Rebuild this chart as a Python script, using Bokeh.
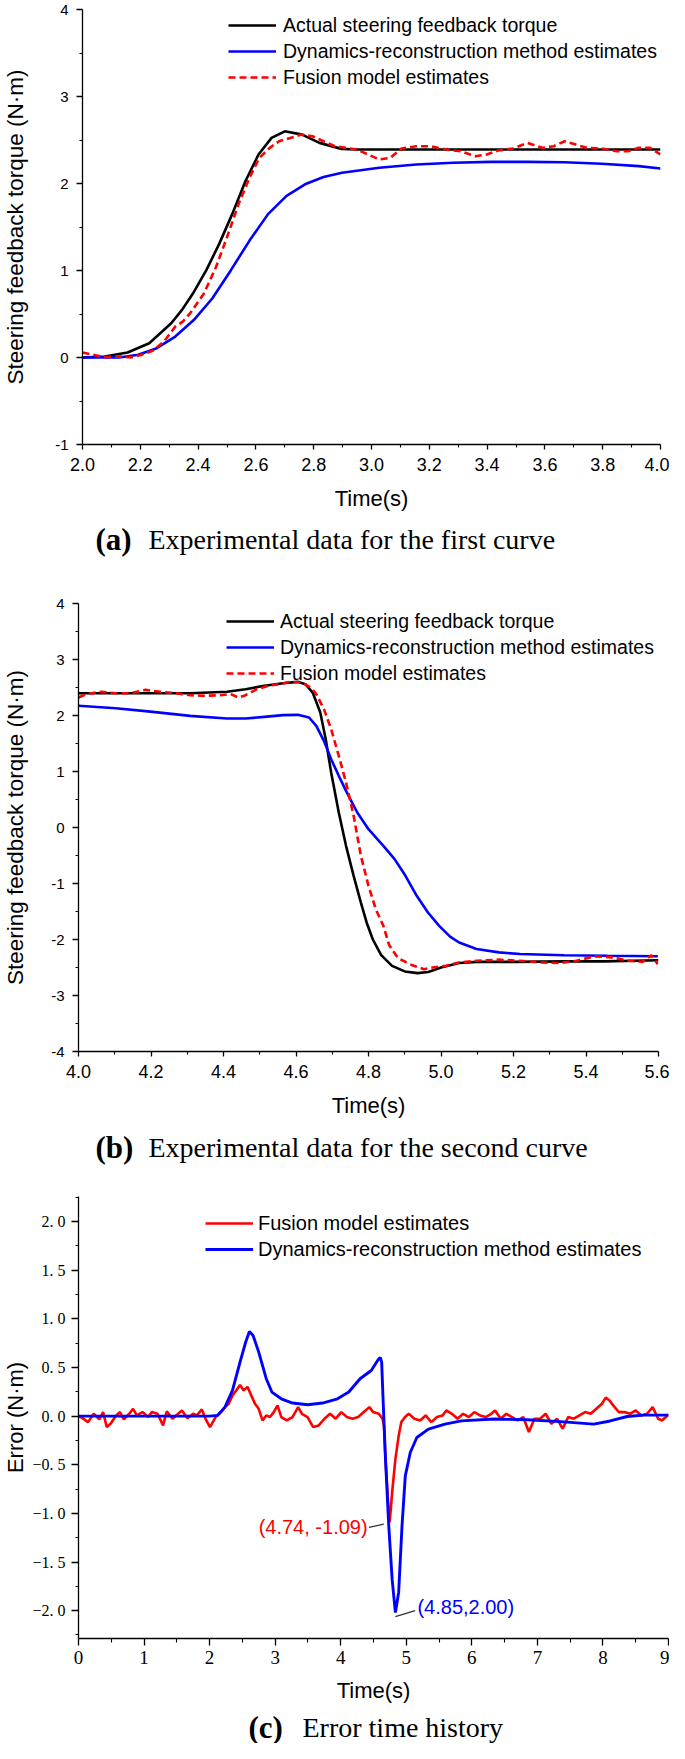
from bokeh.plotting import figure
from bokeh.layouts import column
from bokeh.models import FixedTicker, CustomJSTickFormatter, Legend, LegendItem, Label
from bokeh.embed import file_html
from bokeh.resources import INLINE

# ---------------- data: panel (a) ----------------
a_actual_t = [2.0, 2.077, 2.156, 2.231, 2.307, 2.345, 2.382, 2.428, 2.473, 2.518, 2.564, 2.609,
              2.654, 2.70, 2.76, 2.82, 2.896, 2.95, 3.1, 3.3, 3.5, 3.7, 3.9, 4.0]
a_actual_y = [0.0, 0.012, 0.058, 0.164, 0.393, 0.55, 0.735, 1.001, 1.306, 1.648, 2.029, 2.333,
              2.524, 2.60, 2.562, 2.467, 2.398, 2.39, 2.39, 2.39, 2.39, 2.39, 2.39, 2.39]

a_dyn_t = [2.0, 2.128, 2.193, 2.257, 2.321, 2.385, 2.449, 2.513, 2.578, 2.642, 2.706, 2.77,
           2.834, 2.898, 3.027, 3.155, 3.283, 3.412, 3.54, 3.668, 3.797, 3.925, 4.0]
a_dyn_y = [0.0, 0.001, 0.031, 0.107, 0.241, 0.43, 0.678, 1.001, 1.344, 1.648, 1.857, 1.991,
           2.074, 2.124, 2.181, 2.219, 2.238, 2.249, 2.249, 2.245, 2.227, 2.20, 2.173]

a_fus_t = [2.0, 2.038, 2.077, 2.128, 2.167, 2.205, 2.244, 2.282, 2.321, 2.347, 2.372, 2.42,
           2.462, 2.50, 2.54, 2.578, 2.612, 2.648, 2.68, 2.719, 2.757, 2.796, 2.834, 2.873,
           2.911, 2.95, 2.988, 3.027, 3.065, 3.104, 3.155, 3.206, 3.258, 3.309, 3.36, 3.399,
           3.437, 3.489, 3.54, 3.591, 3.63, 3.668, 3.707, 3.745, 3.797, 3.848, 3.887, 3.925,
           3.964, 4.0]
a_fus_y = [0.058, 0.031, 0.004, 0.012, 0.001, 0.031, 0.081, 0.184, 0.355, 0.412, 0.507, 0.735,
           1.04, 1.382, 1.763, 2.067, 2.295, 2.41, 2.485, 2.524, 2.562, 2.543, 2.485, 2.428,
           2.41, 2.39, 2.333, 2.276, 2.295, 2.402, 2.428, 2.428, 2.39, 2.371, 2.314, 2.333,
           2.379, 2.402, 2.466, 2.41, 2.428, 2.485, 2.447, 2.41, 2.402, 2.371, 2.371, 2.41,
           2.41, 2.333]

# ---------------- data: panel (b) ----------------
b_actual_t = [4.0, 4.103, 4.205, 4.308, 4.41, 4.461, 4.513, 4.564, 4.605, 4.626, 4.646, 4.667,
              4.682, 4.697, 4.718, 4.738, 4.759, 4.779, 4.795, 4.812, 4.835, 4.865, 4.90, 4.935,
              4.965, 5.0, 5.05, 5.1, 5.2, 5.35, 5.45, 5.6]
b_actual_y = [2.398, 2.398, 2.398, 2.398, 2.423, 2.47, 2.53, 2.577, 2.601, 2.56, 2.41, 2.054,
              1.577, 0.982, 0.268, -0.327, -0.863, -1.34, -1.70, -2.0, -2.28, -2.47, -2.57, -2.60,
              -2.58, -2.50, -2.42, -2.40, -2.40, -2.39, -2.39, -2.37]

b_dyn_t = [4.0, 4.103, 4.205, 4.308, 4.41, 4.461, 4.513, 4.564, 4.605, 4.636, 4.656, 4.677,
           4.697, 4.718, 4.738, 4.769, 4.80, 4.841, 4.872, 4.902, 4.933, 4.964, 4.995, 5.025,
           5.05, 5.098, 5.16, 5.218, 5.339, 5.459, 5.598]
b_dyn_y = [2.173, 2.13, 2.065, 1.994, 1.946, 1.946, 1.976, 2.006, 2.012, 1.964, 1.815, 1.548,
           1.22, 0.923, 0.655, 0.268, -0.03, -0.327, -0.565, -0.863, -1.22, -1.518, -1.756, -1.95,
           -2.054, -2.17, -2.23, -2.26, -2.28, -2.29, -2.30]

b_fus_t = [4.0, 4.021, 4.062, 4.103, 4.144, 4.185, 4.226, 4.267, 4.308, 4.349, 4.39, 4.42,
           4.441, 4.461, 4.492, 4.523, 4.554, 4.585, 4.615, 4.641, 4.656, 4.677, 4.697, 4.718,
           4.738, 4.759, 4.779, 4.80, 4.82, 4.841, 4.857, 4.881, 4.917, 4.953, 4.977, 5.014,
           5.05, 5.098, 5.158, 5.218, 5.278, 5.326, 5.374, 5.423, 5.471, 5.52, 5.556, 5.58, 5.598]
b_fus_y = [2.321, 2.381, 2.423, 2.398, 2.398, 2.458, 2.423, 2.398, 2.363, 2.351, 2.363, 2.381,
           2.321, 2.363, 2.47, 2.53, 2.56, 2.601, 2.589, 2.50, 2.381, 2.113, 1.756, 1.28,
           0.804, 0.209, -0.506, -1.042, -1.458, -1.756, -2.1, -2.33, -2.45, -2.53, -2.50, -2.47,
           -2.41, -2.38, -2.36, -2.38, -2.41, -2.42, -2.38, -2.30, -2.32, -2.38, -2.40, -2.28, -2.44]

# ---------------- data: panel (c) ----------------
c_dyn_t = [0.0, 0.5, 1.0, 1.5, 2.006, 2.12, 2.234, 2.349, 2.464, 2.55, 2.607, 2.663, 2.749,
           2.864, 2.95, 3.093, 3.265, 3.494, 3.722, 3.951, 4.123, 4.295, 4.466, 4.58, 4.605,
           4.625, 4.642, 4.683, 4.733, 4.784, 4.834, 4.884, 4.935, 4.985, 5.061, 5.161, 5.338,
           5.59, 5.84, 6.34, 6.85, 7.35, 7.86, 8.11, 8.37, 8.62, 9.0]
c_dyn_y = [0.0, 0.0, 0.0, 0.0, 0.0, 0.007, 0.092, 0.264, 0.555, 0.76, 0.87, 0.829, 0.658,
           0.384, 0.247, 0.178, 0.134, 0.116, 0.134, 0.178, 0.247, 0.384, 0.469, 0.59, 0.60,
           0.55, 0.242, -0.443, -1.128, -1.676, -2.02, -1.81, -1.128, -0.614, -0.374, -0.22, -0.134,
           -0.083, -0.049, -0.03, -0.038, -0.057, -0.083, -0.05, -0.004, 0.01, 0.01]

c_fus_t = [0.0, 0.06, 0.146, 0.232, 0.318, 0.375, 0.432, 0.489, 0.575, 0.633, 0.69, 0.775,
           0.832, 0.89, 0.976, 1.062, 1.119, 1.205, 1.29, 1.347, 1.434, 1.52, 1.577, 1.663,
           1.748, 1.805, 1.881, 1.949, 2.006, 2.092, 2.178, 2.234, 2.292, 2.349, 2.406, 2.464,
           2.521, 2.578, 2.636, 2.692, 2.749, 2.807, 2.864, 2.921, 2.979, 3.036, 3.094, 3.178,
           3.264, 3.35, 3.408, 3.494, 3.58, 3.665, 3.751, 3.837, 3.923, 4.009, 4.094, 4.18,
           4.266, 4.352, 4.438, 4.495, 4.58, 4.638, 4.66, 4.683, 4.723, 4.745, 4.765, 4.784,
           4.834, 4.884, 4.924, 4.982, 5.038, 5.124, 5.21, 5.296, 5.382, 5.468, 5.553, 5.61,
           5.696, 5.782, 5.868, 5.955, 6.039, 6.125, 6.211, 6.297, 6.355, 6.44, 6.526, 6.612,
           6.698, 6.784, 6.87, 6.955, 7.041, 7.127, 7.213, 7.299, 7.384, 7.47, 7.556, 7.642,
           7.728, 7.814, 7.899, 7.985, 8.042, 8.1, 8.157, 8.243, 8.328, 8.414, 8.5, 8.586,
           8.672, 8.758, 8.843, 8.9, 8.987, 9.0]
c_fus_y = [0.0, -0.021, -0.062, 0.024, -0.034, 0.041, -0.113, -0.079, 0.007, 0.041, -0.034, 0.024,
           0.075, 0.007, 0.041, -0.01, 0.041, 0.024, -0.096, 0.048, -0.027, 0.024, 0.058, -0.021,
           0.024, 0.007, 0.069, -0.045, -0.113, -0.01, 0.041, 0.092, 0.127, 0.212, 0.264, 0.32,
           0.264, 0.30, 0.212, 0.127, 0.075, -0.045, 0.007, -0.01, 0.041, 0.11, -0.01, -0.045,
           -0.01, 0.092, 0.024, -0.01, -0.113, -0.096, -0.027, 0.024, -0.027, 0.041, -0.01, -0.027,
           -0.01, 0.041, 0.092, 0.041, 0.024, -0.027, -0.1, -0.443, -0.888, -1.09, -0.95, -0.785,
           -0.443, -0.203, -0.062, -0.01, 0.024, -0.027, -0.045, 0.007, -0.062, -0.01, 0.007, 0.058,
           0.024, -0.027, 0.024, -0.01, 0.041, 0.007, -0.01, 0.024, 0.058, -0.027, 0.024, -0.01,
           -0.045, -0.01, -0.164, -0.027, -0.027, 0.024, -0.079, -0.027, -0.13, -0.01, -0.027, 0.007,
           0.041, 0.024, 0.075, 0.127, 0.19, 0.161, 0.11, 0.041, 0.041, 0.024, 0.058, 0.007,
           0.024, 0.092, -0.027, -0.045, 0.007, 0.02]

# annotation leader lines (panel c)
c_red_lead_x = [4.431, 4.657]
c_red_lead_y = [-1.145, -1.111]
c_blue_lead_x = [4.834, 5.136]
c_blue_lead_y = [-2.06, -2.0]

# ---------------- ticks ----------------
a_xticks = [2.0, 2.2, 2.4, 2.6, 2.8, 3.0, 3.2, 3.4, 3.6, 3.8, 4.0]
a_xminor = [2.1, 2.3, 2.5, 2.7, 2.9, 3.1, 3.3, 3.5, 3.7, 3.9]
a_yticks = [-1, 0, 1, 2, 3, 4]
a_yminor = [-0.5, 0.5, 1.5, 2.5, 3.5]
b_xticks = [4.0, 4.2, 4.4, 4.6, 4.8, 5.0, 5.2, 5.4, 5.6]
b_xminor = [4.1, 4.3, 4.5, 4.7, 4.9, 5.1, 5.3, 5.5]
b_yticks = [-4, -3, -2, -1, 0, 1, 2, 3, 4]
b_yminor = [-3.5, -2.5, -1.5, -0.5, 0.5, 1.5, 2.5, 3.5]
c_xticks = [0, 1, 2, 3, 4, 5, 6, 7, 8, 9]
c_xminor = [0.5, 1.5, 2.5, 3.5, 4.5, 5.5, 6.5, 7.5, 8.5]
c_yticks = [-2.0, -1.5, -1.0, -0.5, 0.0, 0.5, 1.0, 1.5, 2.0]
c_yminor = [-2.25, -1.75, -1.25, -0.75, -0.25, 0.25, 0.75, 1.25, 1.75, 2.25]

SANS = "Liberation Sans"
SERIF = "Liberation Serif"
BLACK = "#000000"
BLUE = "#0000FF"
RED = "#FF0000"
LW = 2.6
W = 669


def make_fig(height, xr, yr, bl, bt, bb, br):
    p = figure(width=W, height=height, x_range=xr, y_range=yr, output_backend="svg",
               toolbar_location=None, title=None, frame_align=False,
               min_border_left=bl, min_border_top=bt, min_border_bottom=bb, min_border_right=br)
    p.grid.visible = False
    p.outline_line_color = None
    p.background_fill_color = "white"
    p.border_fill_color = "white"
    return p


def style_axis(ax, ticks, minor, fmt, font, size, standoff, tick_out, minor_out,
               title, title_size, title_standoff):
    ax.ticker = FixedTicker(ticks=ticks, minor_ticks=minor)
    ax.formatter = CustomJSTickFormatter(code=fmt)
    ax.axis_line_color = "black"
    ax.axis_line_width = 1.3
    ax.major_tick_line_color = "black"
    ax.major_tick_line_width = 1.3
    ax.minor_tick_line_color = "black"
    ax.minor_tick_line_width = 1.1
    ax.major_tick_in = 0
    ax.major_tick_out = tick_out
    ax.minor_tick_in = 0
    ax.minor_tick_out = minor_out
    ax.major_label_text_font = font
    ax.major_label_text_font_size = size
    ax.major_label_text_color = "black"
    ax.major_label_standoff = standoff
    ax.axis_label = title
    ax.axis_label_text_font = SANS
    ax.axis_label_text_font_size = title_size
    ax.axis_label_text_font_style = "normal"
    ax.axis_label_text_color = "black"
    ax.axis_label_standoff = title_standoff


def add_legend(p, items, x, y, standoff, size):
    leg = Legend(items=items, location=(x, y), orientation="vertical", padding=0, margin=0,
                 spacing=0, glyph_width=48, glyph_height=26, label_height=26,
                 label_standoff=standoff, label_text_font=SANS, label_text_font_size=size,
                 label_text_color="black", border_line_color=None, background_fill_alpha=0.0)
    p.add_layout(leg)


def caption_fig(height, cy, x_tag, x_txt, tag, txt):
    f = figure(width=W, height=height, x_range=(0, W), y_range=(0, height),
               output_backend="svg", toolbar_location=None, title=None, frame_align=False,
               x_axis_type=None, y_axis_type=None,
               min_border_left=0, min_border_right=0, min_border_top=0, min_border_bottom=0)
    f.grid.visible = False
    f.outline_line_color = None
    f.background_fill_color = "white"
    f.border_fill_color = "white"
    f.add_layout(Label(x=x_tag, y=cy, x_units="screen", y_units="screen", text=tag,
                       text_font=SERIF, text_font_size="31px", text_font_style="bold",
                       text_color="black", text_align="left", text_baseline="middle"))
    f.add_layout(Label(x=x_txt, y=cy, x_units="screen", y_units="screen", text=txt,
                       text_font=SERIF, text_font_size="28px", text_font_style="normal",
                       text_color="black", text_align="left", text_baseline="middle"))
    return f


FMT1 = "return tick.toFixed(1);"
FMT0 = "return tick.toFixed(0);"
FMTC = "var s = Math.abs(tick).toFixed(1).replace('.', '. '); return (tick < -1e-9 ? '\\u2212' : '') + s;"
YT = "Steering feedback torque (N\u00b7m)"

# ---------------- panel (a) ----------------
pa = make_fig(520, (2.0, 4.0), (-1.0, 4.0), 79, 9, 76, 9)
r1 = pa.line(a_actual_t, a_actual_y, line_color=BLACK, line_width=LW)
r2 = pa.line(a_dyn_t, a_dyn_y, line_color=BLUE, line_width=LW)
r3 = pa.line(a_fus_t, a_fus_y, line_color=RED, line_width=LW, line_dash="7 4")
style_axis(pa.xaxis[0], a_xticks, a_xminor, FMT1, SANS, "18px", 8, 5, 3, "Time(s)", "22px", 12)
style_axis(pa.yaxis[0], a_yticks, a_yminor, FMT0, SANS, "15px", 8, 6, 3, YT, "22.5px", 24)
add_legend(pa, [LegendItem(label="Actual steering feedback torque", renderers=[r1]),
                LegendItem(label="Dynamics-reconstruction method estimates", renderers=[r2]),
                LegendItem(label="Fusion model estimates", renderers=[r3])],
           146, 354, 7, "19.5px")
ca = caption_fig(47, 28, 95, 148, "(a)", "Experimental data for the first curve")

# ---------------- panel (b) ----------------
pb = make_fig(556, (4.0, 5.6), (-4.0, 4.0), 75, 36, 72, 11)
s1 = pb.line(b_actual_t, b_actual_y, line_color=BLACK, line_width=LW)
s2 = pb.line(b_dyn_t, b_dyn_y, line_color=BLUE, line_width=LW)
s3 = pb.line(b_fus_t, b_fus_y, line_color=RED, line_width=LW, line_dash="7 4")
style_axis(pb.xaxis[0], b_xticks, b_xminor, FMT1, SANS, "18px", 8, 5, 3, "Time(s)", "22px", 12)
style_axis(pb.yaxis[0], b_yticks, b_yminor, FMT0, SANS, "15px", 8, 6, 3, YT, "22.5px", 20)
add_legend(pb, [LegendItem(label="Actual steering feedback torque", renderers=[s1]),
                LegendItem(label="Dynamics-reconstruction method estimates", renderers=[s2]),
                LegendItem(label="Fusion model estimates", renderers=[s3])],
           148, 365, 6, "19.5px")
cb = caption_fig(44, 20, 95, 148, "(b)", "Experimental data for the second curve")

# ---------------- panel (c) ----------------
pc = make_fig(544, (0.0, 9.0), (-2.286, 2.257), 72, 29, 73, 1)
q1 = pc.line(c_fus_t, c_fus_y, line_color=RED, line_width=LW)
q2 = pc.line(c_dyn_t, c_dyn_y, line_color=BLUE, line_width=LW + 0.3)
pc.line(c_red_lead_x, c_red_lead_y, line_color="#333333", line_width=1.3)
pc.line(c_blue_lead_x, c_blue_lead_y, line_color="#333333", line_width=1.3)
style_axis(pc.xaxis[0], c_xticks, c_xminor, FMT0, SERIF, "19px", 5, 7, 4, "Time(s)", "22px", 11)
style_axis(pc.yaxis[0], c_yticks, c_yminor, FMTC, SERIF, "16px", 6, 7, 3,
           "Error (N\u00b7m)", "22px", 1)
add_legend(pc, [LegendItem(label="Fusion model estimates", renderers=[q1]),
                LegendItem(label="Dynamics-reconstruction method estimates", renderers=[q2])],
           127, 376, 5, "20px")
pc.add_layout(Label(x=4.41, y=-1.145, text="(4.74, -1.09)", text_font=SANS, text_font_size="20px",
                    text_color=RED, text_align="right", text_baseline="middle"))
pc.add_layout(Label(x=5.17, y=-1.967, text="(4.85,2.00)", text_font=SANS, text_font_size="20px",
                    text_color=BLUE, text_align="left", text_baseline="middle"))
cc = caption_fig(32, 16, 248, 302, "(c)", "Error time history")

layout = column(pa, ca, pb, cb, pc, cc, spacing=0)
with open("out.html", "w", encoding="utf-8") as f:
    f.write(file_html(layout, INLINE))
